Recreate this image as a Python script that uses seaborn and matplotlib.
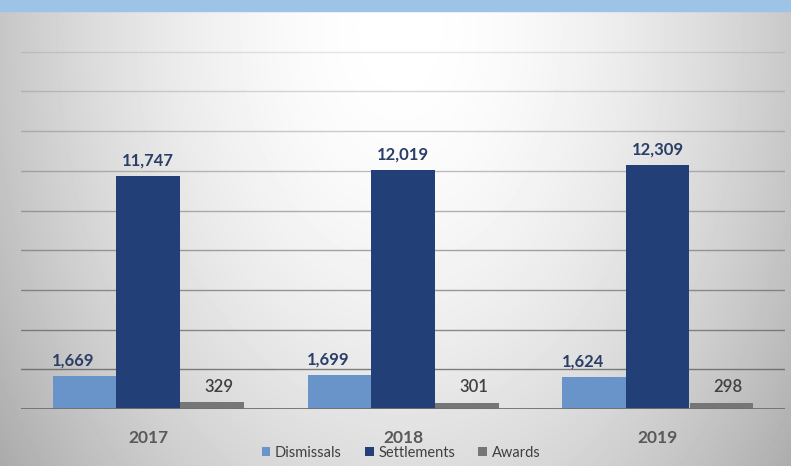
import numpy as np
import pandas as pd
import matplotlib
matplotlib.use("Agg")
import matplotlib.pyplot as plt
from matplotlib.patches import Patch
import seaborn as sns

years = ["2017", "2018", "2019"]
series_names = ["Dismissals", "Settlements", "Awards"]
dismissals = [1669, 1699, 1624]
settlements = [11747, 12019, 12309]
awards = [329, 301, 298]

colors = {"Dismissals": "#6894CA", "Settlements": "#233F78", "Awards": "#767676"}
label_colors = {"Dismissals": "#2B3E66", "Settlements": "#2B3E66", "Awards": "#404040"}
label_dx = {"Dismissals": -8, "Settlements": 0, "Awards": 5}

df = pd.DataFrame({
    "year": years * 3,
    "type": sum([[n] * 3 for n in series_names], []),
    "count": dismissals + settlements + awards,
})

sns.set_theme(style="white")
plt.rcParams["font.family"] = ["Lato", "DejaVu Sans"]

W, H = 791, 466
fig = plt.figure(figsize=(W / 100, H / 100), dpi=100)

# soft radial gray background
bg = fig.add_axes([0, 0, 1, 1], zorder=-2)
yy, xx = np.mgrid[0:H, 0:W]
d = np.sqrt(((xx - 400) / 480.0) ** 2 + ((yy - 30) / 700.0) ** 2)
shade = np.clip(1.0 - 0.31 * d ** 1.8, 0, 1)
bg.imshow(shade, cmap="gray", vmin=0, vmax=1, aspect="auto",
          extent=[0, W, H, 0], interpolation="bilinear")
bg.add_patch(plt.Rectangle((0, 0), W, 11, color="#9DC3E6", zorder=3))
bg.set_xlim(0, W)
bg.set_ylim(H, 0)
bg.axis("off")

ax = fig.add_axes([21 / W, 57 / H, (785 - 21) / W, (454 - 57) / H])
ax.set_facecolor("none")

sns.barplot(data=df, x="year", y="count", hue="type", hue_order=series_names,
            palette=colors, width=0.75, gap=0, saturation=1, legend=False,
            errorbar=None, linewidth=0, edgecolor="none", ax=ax, zorder=3)

ax.set_ylim(0, 20000)
ax.set_xlim(-0.5, 2.5)

# horizontal gridlines, fading toward the top
for v in range(2000, 20000, 2000):
    a = 0.8 - 0.65 * (v / 18000)
    ax.axhline(v, color="#555555", lw=1.0, alpha=a, zorder=1)
ax.axhline(0, color="#707070", lw=1.3, zorder=4)

for spine in ax.spines.values():
    spine.set_visible(False)
ax.set_yticks([])
ax.set_xlabel("")
ax.set_ylabel("")
ax.tick_params(axis="x", length=0, pad=15)
for t in ax.get_xticklabels():
    t.set_fontsize(12.5)
    t.set_fontweight("bold")
    t.set_color("#595959")

values = {"Dismissals": dismissals, "Settlements": settlements, "Awards": awards}
for name, cont in zip(series_names, ax.containers):
    for bar, v in zip(cont, values[name]):
        ax.annotate(f"{v:,}", (bar.get_x() + bar.get_width() / 2, v),
                    xytext=(label_dx[name], 5.5), textcoords="offset points",
                    ha="center", va="bottom", fontsize=12,
                    fontweight="bold" if name != "Awards" else "semibold",
                    color=label_colors[name], zorder=5)

handles = [Patch(facecolor=colors[n], edgecolor="none") for n in series_names]
fig.legend(handles, series_names, loc="center", bbox_to_anchor=(401 / W, 1 - 453 / H),
           ncol=3, frameon=False, fontsize=10.5, handlelength=0.6, handleheight=0.6,
           handletextpad=0.3, columnspacing=1.6, labelcolor="#404040")

fig.savefig("out.png", dpi=100)
